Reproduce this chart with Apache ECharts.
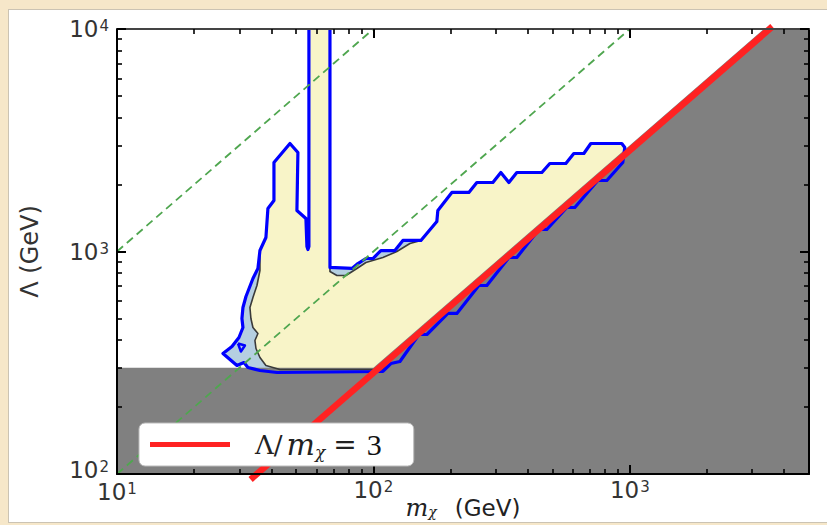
<!DOCTYPE html>
<html><head><meta charset="utf-8">
<script src="https://cdn.jsdelivr.net/npm/echarts@6/dist/echarts.min.js"></script>
<style>
html,body{margin:0;padding:0;background:#f6e7c9;width:827px;height:525px;overflow:hidden;}
#panel{position:absolute;left:8px;top:9px;width:830px;height:514px;background:#fff;border:1px solid #cbc3b3;box-sizing:border-box;}
#chart{position:absolute;left:0;top:0;width:827px;height:525px;}
</style></head><body>
<div id="panel"></div><div id="chart"></div>
<script>
// ---- data: [m_chi (GeV), Lambda (GeV)] ----
const outerContour = [
 [67.7,10000],[67.7,848],[82.5,839],[87.0,883],[93.5,930],[99.6,930],[106.9,1010],[121.3,1010],
 [130.3,1121],[153.2,1121],[176.8,1364],[178.4,1529],[202.3,1842],[235.7,1842],[253.2,2042],
 [292.4,2042],[314.1,2265],[337.6,2042],[362.6,2265],[454.0,2265],[487.6,2486],[563.0,2486],
 [604.9,2757],[661.9,2757],[704.7,3058],[930.5,3058],[956.2,2934],[938.9,2512],[813.6,2085],
 [750.5,2085],[610.4,1577],[568.1,1577],[474.7,1256],[441.9,1256],[362.6,940],[337.6,940],
 [277.0,703.5],[257.8,703.5],[211.6,526.6],[195.2,526.6],[161.7,423.6],[150.5,423.6],
 [126.9,320.3],[117.0,313.8],[108.9,288.9],[42.05,285.9],[36.10,291.9],[32.41,301.0],
 [31.27,317.0],[29.37,307.4],[25.90,347.9],[28.08,374.1],[29.90,410.7],[30.99,455.4],
 [30.71,500.0],[30.99,560.2],[31.84,627.9],[33.90,756.2],[35.45,838.8],[36.10,1010],
 [38.09,1156],[38.78,1561],[40.94,1695],[40.94,2512],[47.27,3058],[50.77,2787],[50.32,1529],
 [54.55,1407],[55.05,1053],[55.54,1021],[56.04,1053],[56.04,10000]
];
const innerContour = [
 [67.7,10000],[67.7,813],[72.07,780],[78.13,780],[86.24,838.8],[93.5,892.4],[108.9,939.8],
 [123.5,1000],[138.8,1086],[153.2,1121],[176.8,1364],[178.4,1529],[202.3,1842],[235.7,1842],
 [253.2,2042],[292.4,2042],[314.1,2265],[337.6,2042],[362.6,2265],[454.0,2265],[487.6,2486],
 [563.0,2486],[604.9,2757],[661.9,2757],[704.7,3058],[930.5,3058],[956.2,2934],[938.9,2512],
 [813.6,2085],[750.5,2085],[610.4,1577],[568.1,1577],[474.7,1256],[441.9,1256],[362.6,940],
 [337.6,940],[277.0,703.5],[257.8,703.5],[211.6,526.6],[195.2,526.6],[161.7,423.6],
 [150.5,423.6],[126.9,320.3],[117.0,313.8],[108.9,294.9],[43.20,294.9],[38.09,307.4],
 [36.10,333.9],[34.84,366.4],[34.51,398.1],[35.45,428.0],[33.90,455.4],[33.29,500.0],
 [33.00,560.2],[33.90,621.4],[35.14,703.5],[36.10,821.5],[36.10,1010],[38.09,1156],
 [38.78,1561],[40.94,1695],[40.94,2512],[47.27,3058],[50.77,2787],[50.32,1529],[54.55,1407],
 [55.05,1053],[55.54,1021],[56.04,1053],[56.04,10000]
];
const contourIsland = [[29.64,385.9],[31.55,378.0],[30.43,355.2],[29.64,385.9]];
const excludedRegion = [[10,100],[10,300],[100,300],[3333.3,10000],[5000,10000],[5000,100]];
const ratio100Line = [[10,1000],[100,10000]];
const ratio10Line = [[10,100],[1000,10000]];
const ratio3Line = [[33.2,94.5],[3600,10260]];
const xMajorTicks = [10,100,1000];
const xMinorTicks = [20,30,40,50,60,70,80,90,200,300,400,500,600,700,800,900,2000,3000,4000];
const yMajorTicks = [100,1000,10000];
const yMinorTicks = [200,300,400,500,600,700,800,900,2000,3000,4000,5000,6000,7000,8000,9000];
const legendName = 'Λ/mχ = 3';

const chart = echarts.init(document.getElementById('chart'), null, {renderer:'svg'});

function polygon(name, pts, fill, z){
  return {type:'custom', name:name, z:z, silent:true, data:pts, encode:{x:0,y:1},
    renderItem:function(params, api){
      if(params.dataIndex!==0) return null;
      return {type:'polygon', shape:{points:pts.map(function(p){return api.coord(p);})}, style:{fill:fill}};
    }};
}
function polyline(name, pts, color, width, z, dash, clip){
  return {type:'line', name:name, z:z, data:pts, showSymbol:false, symbol:'none', silent:true,
    clip: clip!==false, lineStyle:{color:color, width:width, type:dash||'solid', cap:'butt', join:'round'},
    itemStyle:{color:color}};
}
const txt = {fontFamily:'DejaVu Sans', color:'#333'};
const labRich = {
  b: Object.assign({fontSize:23, lineHeight:16}, txt),
  s: Object.assign({fontSize:15, lineHeight:10, padding:[0,0,6,1]}, txt),
  bu:Object.assign({fontSize:23, lineHeight:16, padding:[0,0,8,0]}, txt),
  su:Object.assign({fontSize:15, lineHeight:10, padding:[0,0,14,1]}, txt),
  bd:Object.assign({fontSize:23, lineHeight:16, padding:[4,0,0,0]}, txt),
  sd:Object.assign({fontSize:15, lineHeight:10, padding:[4,0,6,1]}, txt)
};
function powLabel(v){ return '{b|10}{s|' + Math.round(Math.log10(v)) + '}'; }
function xLabel(v){ return v === 10 ? '{bd|10}{sd|1}' : powLabel(v); }
function yLabel(v){ return v === 100 ? '{bu|10}{su|2}' : powLabel(v); }

function axisSet(dim, pos, major, minor, mn, mx, lineColor, labels){
  const base = {type:'log', logBase:10, min:mn, max:mx, position:pos, z:10, splitLine:{show:false},
    axisLine:{show:false, onZero:false}};
  const a = Object.assign({}, base, {
    axisLine:{show:true, onZero:false, lineStyle:{color:lineColor, width:2}},
    axisTick:{show:true, inside:true, length:9, customValues:major, lineStyle:{color:'#000', width:2}},
    axisLabel: labels ? {show:true, customValues:major, formatter: dim==='x'?xLabel:yLabel, rich:labRich,
      fontFamily:'DejaVu Sans', fontSize:23, color:'#333',
      margin: dim==='x'?8:8} : {show:false}
  });
  const b = Object.assign({}, base, {
    axisTick:{show:true, inside:true, length:5, customValues:minor, lineStyle:{color:'#000', width:1.6}},
    axisLabel:{show:false}
  });
  return [a,b];
}
const xs = axisSet('x','bottom',xMajorTicks,xMinorTicks,10,5000,'#000',true)
  .concat(axisSet('x','top',xMajorTicks,xMinorTicks,10,5000,'#444',false));
const ys = axisSet('y','left',yMajorTicks,yMinorTicks,100,10000,'#000',true)
  .concat(axisSet('y','right',yMajorTicks,yMinorTicks,100,10000,'#000',false));
Object.assign(xs[0], {name:'{m|m}{c|χ}{g|(GeV)}', nameLocation:'middle', nameGap:23, nameMoveOverlap:false,
  nameTextStyle:{fontSize:22, rich:{
    m:{fontFamily:'DejaVu Serif', fontStyle:'italic', fontSize:24, lineHeight:22, color:'#222'},
    c:{fontFamily:'DejaVu Serif', fontStyle:'italic', fontSize:14, lineHeight:14, padding:[8,0,0,0], color:'#222'},
    g:{fontFamily:'DejaVu Sans', fontSize:23, lineHeight:22, padding:[0,0,0,18], color:'#222'}
  }}});
Object.assign(ys[0], {name:'Λ (GeV)', nameLocation:'middle', nameGap:73, nameRotate:90, nameMoveOverlap:false,
  nameTextStyle:{fontFamily:'DejaVu Sans', fontSize:24, color:'#333', lineHeight:28}});

const option = {
  animation:false,
  backgroundColor:'transparent',
  grid:{left:117, right:18, top:29, bottom:51, containLabel:false, outerBoundsMode:'none'},
  xAxis: xs,
  yAxis: ys,
  legend:{
    left:139, top:423, selectedMode:false, z:20,
    data:[{name:legendName, icon:'rect'}],
    itemWidth:80, itemHeight:5,
    padding:[6,32,6,11],
    backgroundColor:'#fff', borderColor:'#bbb', borderWidth:1, borderRadius:6,
    formatter:function(){ return '{a|Λ/}{m|m}{c|χ}{e|=}{t|3}'; },
    textStyle:{fontSize:26, rich:{
      a:{fontFamily:'DejaVu Serif', fontSize:26, lineHeight:30, color:'#222', padding:[0,4,0,20]},
      m:{fontFamily:'DejaVu Serif', fontStyle:'italic', fontSize:30, lineHeight:30, color:'#222'},
      c:{fontFamily:'DejaVu Serif', fontStyle:'italic', fontSize:17, lineHeight:16, color:'#222', padding:[14,0,0,0]},
      e:{fontFamily:'DejaVu Serif', fontSize:28, lineHeight:30, color:'#222', padding:[0,10,0,8]},
      t:{fontFamily:'Liberation Serif', fontSize:30, lineHeight:30, color:'#111'}
    }}
  },
  series:[
    polygon('outer region', outerContour, '#b5cfe1', 2),
    polygon('inner region', innerContour, '#f8f4c8', 3),
    polygon('excluded', excludedRegion, '#808080', 4),
    polyline('inner contour', innerContour, '#3a3a3a', 1.6, 5),
    polyline('outer contour', outerContour, '#0000ff', 3.2, 6),
    polyline('island', contourIsland, '#0000ff', 2.5, 6),
    polyline('Λ/mχ = 100', ratio100Line, '#4fa64f', 1.8, 7, [8,5]),
    polyline('Λ/mχ = 10', ratio10Line, '#4fa64f', 1.8, 7, [8,5]),
    polyline(legendName, ratio3Line, '#ff2222', 6.5, 8, 'solid', false)
  ]
};
chart.setOption(option);
</script>
</body></html>
